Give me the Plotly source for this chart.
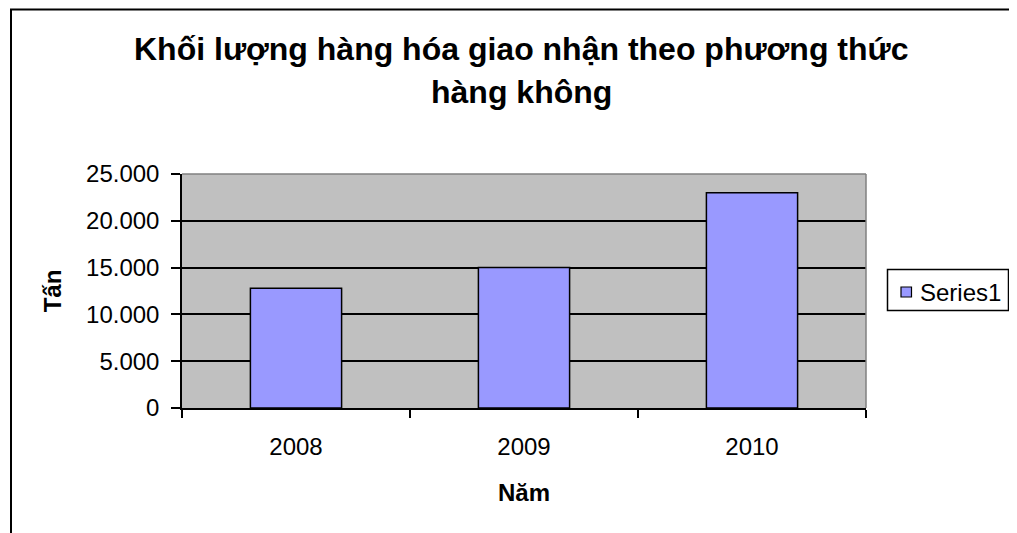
import plotly.graph_objects as go

years = ["2008", "2009", "2010"]
values = [12800, 15000, 23000]
series_name = "Series1"
title_line1 = "Khối lượng hàng hóa giao nhận theo phương thức"
title_line2 = "hàng không"
x_title = "Năm"
y_title = "Tấn"

OFF = 8  # default page body margin
W, H = 1017 - OFF, 533 - OFF
L, R, T, B = 182 - OFF, 866 - OFF, 174 - OFF, 408 - OFF
pw, ph = R - L, B - T

def px_x(p):
    return (p - OFF - L) / pw

def px_y(p):
    return (B - (p - OFF)) / ph

FONT = "Arial, Liberation Sans, sans-serif"
BAR_COLOR = "#9999FF"

fig = go.Figure()
fig.add_trace(go.Bar(
    x=years, y=values, name=series_name,
    marker=dict(color=BAR_COLOR, line=dict(color="black", width=1.5)),
    showlegend=False,
))

fig.update_layout(
    width=W, height=H,
    margin=dict(l=L, r=W - R, t=T, b=H - B, pad=0),
    paper_bgcolor="white",
    plot_bgcolor="#C0C0C0",
    separators=",.",
    bargap=0.6,
    font=dict(family=FONT, size=24, color="black"),
    showlegend=False,
    xaxis=dict(
        type="category",
        showline=True, linecolor="black", linewidth=1.5,
        ticks="outside", ticklen=8, tickwidth=1.5, tickcolor="black",
        tickson="boundaries",
        showgrid=False, zeroline=False,
        ticklabelstandoff=16,
        tickfont=dict(family=FONT, size=24, color="black"),
        title=dict(text="<b>" + x_title + "</b>", standoff=26,
                   font=dict(family=FONT, size=24, color="black")),
    ),
    yaxis=dict(
        range=[0, 25000], dtick=5000, tickformat=",d",
        showline=True, linecolor="black", linewidth=1.5,
        ticks="outside", ticklen=9, tickwidth=1.5, tickcolor="black",
        showgrid=True, gridcolor="black", gridwidth=1.5,
        zeroline=False,
        ticklabelstandoff=7,
        tickfont=dict(family=FONT, size=24, color="black"),
        title=dict(text="<b>" + y_title + "</b>", standoff=18,
                   font=dict(family=FONT, size=24, color="black")),
    ),
    annotations=[
        dict(text="<b>" + title_line1 + "</b>", xref="paper", yref="paper",
             x=px_x(521), y=px_y(49), xanchor="center", yanchor="middle",
             showarrow=False, font=dict(family=FONT, size=32, color="black")),
        dict(text="<b>" + title_line2 + "</b>", xref="paper", yref="paper",
             x=px_x(521), y=px_y(92), xanchor="center", yanchor="middle",
             showarrow=False, font=dict(family=FONT, size=32, color="black")),
        # legend label
        dict(text=series_name, xref="paper", yref="paper",
             x=px_x(919), y=px_y(292), xanchor="left", yanchor="middle",
             showarrow=False, borderpad=0,
             font=dict(family=FONT, size=24, color="black")),
    ],
    shapes=[
        dict(type="line", xref="paper", yref="paper", x0=0, x1=1, y0=1, y1=1,
             line=dict(color="#808080", width=1.5), layer="above"),
        dict(type="line", xref="paper", yref="paper", x0=1, x1=1, y0=0, y1=1,
             line=dict(color="#808080", width=1.5), layer="above"),
        # outer chart border
        dict(type="rect", xref="paper", yref="paper",
             x0=px_x(11), x1=px_x(1040), y0=px_y(560), y1=px_y(9.5),
             line=dict(color="black", width=2), fillcolor="rgba(0,0,0,0)",
             layer="above"),
        # legend box
        dict(type="rect", xref="paper", yref="paper",
             x0=px_x(887.5), x1=px_x(1008.5), y0=px_y(310.5), y1=px_y(269.5),
             line=dict(color="black", width=1.5), fillcolor="white",
             layer="above"),
        # legend key
        dict(type="rect", xref="paper", yref="paper",
             x0=px_x(901), x1=px_x(911.5), y0=px_y(297), y1=px_y(287),
             line=dict(color="black", width=1.2), fillcolor=BAR_COLOR,
             layer="above"),
    ],
)

fig.write_html("out.html")
